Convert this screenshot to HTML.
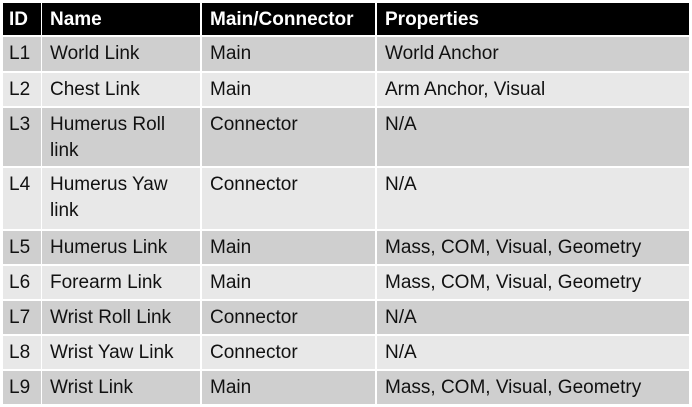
<!DOCTYPE html>
<html><head><meta charset="utf-8"><style>
html,body{margin:0;padding:0;background:#fff;width:692px;height:407px;overflow:hidden}
.c{position:absolute;box-sizing:border-box;padding:0 0 0 8px;font-family:"Liberation Sans",sans-serif;font-size:19px;line-height:26px;color:#111;}
.h{background:#000;color:#fff;font-weight:bold;}
.d{background:#cfcfcf}.l{background:#e8e8e8}
</style></head><body>
<div id="t"></div>
<script>
var cols=[[3,38],[42,158],[202,173],[377,312]];
var rows=[[3,32,'h',['ID','Name','Main/Connector','Properties']],
[37,34,'d',['L1','World Link','Main','World Anchor']],
[73,33,'l',['L2','Chest Link','Main','Arm Anchor, Visual']],
[108,58,'d',['L3','Humerus Roll<br>link','Connector','N/A']],
[168,61,'l',['L4','Humerus Yaw<br>link','Connector','N/A']],
[231,33,'d',['L5','Humerus Link','Main','Mass, COM, Visual, Geometry']],
[266,33,'l',['L6','Forearm Link','Main','Mass, COM, Visual, Geometry']],
[301,33,'d',['L7','Wrist Roll Link','Connector','N/A']],
[336,33,'l',['L8','Wrist Yaw Link','Connector','N/A']],
[371,33,'d',['L9','Wrist Link','Main','Mass, COM, Visual, Geometry']]];
var h='';
rows.forEach(function(r){cols.forEach(function(c,i){
var pt=r[2]=='h'?4:4;
h+='<div class="c '+r[2]+'" style="left:'+c[0]+'px;top:'+r[0]+'px;width:'+c[1]+'px;height:'+r[1]+'px;padding-top:'+pt+'px;padding-left:'+(i==0?6:8)+'px">'+r[3][i]+'</div>';});});
document.getElementById('t').innerHTML=h;
</script>
</body></html>
